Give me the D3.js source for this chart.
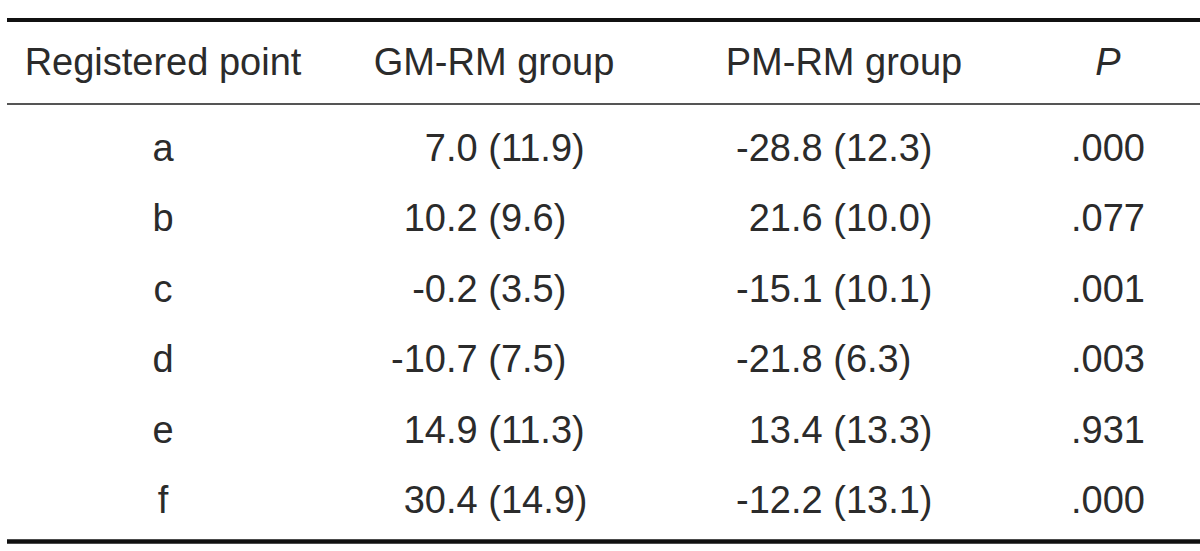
<!DOCTYPE html>
<html>
<head>
<meta charset="utf-8">
<script src="https://cdn.jsdelivr.net/npm/d3@7"></script>
<style>
  html, body { margin: 0; padding: 0; background: #fff; }
  text { font-family: "Liberation Sans", Arial, Helvetica, sans-serif; fill: #2b2b2b; }
</style>
</head>
<body>
<div id="chart-area"></div>
<script>
// table contents
var headers = ["Registered point", "GM-RM group", "PM-RM group", "P"];
var points = ["a", "b", "c", "d", "e", "f"];
var gmrm = ["7.0 (11.9)", "10.2 (9.6)", "-0.2 (3.5)", "-10.7 (7.5)", "14.9 (11.3)", "30.4 (14.9)"];
var pmrm = ["-28.8 (12.3)", "21.6 (10.0)", "-15.1 (10.1)", "-21.8 (6.3)", "13.4 (13.3)", "-12.2 (13.1)"];
var pvals = [".000", ".077", ".001", ".003", ".931", ".000"];

var width = 1200, height = 551;
var fontSize = 38;

var svg = d3.select("#chart-area").append("svg")
    .attr("width", width)
    .attr("height", height);

// row baselines
var y = d3.scalePoint()
    .domain(points)
    .range([161, 513]);

// header centres and decimal alignment positions
var headerX = [163, 494, 844, 1108];
var decimalX = [null, 446, 791, null];

// rules
svg.append("line").attr("x1", 7).attr("x2", width).attr("y1", 20).attr("y2", 20)
    .attr("stroke", "#111").attr("stroke-width", 4);
svg.append("line").attr("x1", 7).attr("x2", width).attr("y1", 104).attr("y2", 104)
    .attr("stroke", "#555").attr("stroke-width", 2);
svg.append("line").attr("x1", 7).attr("x2", width).attr("y1", 541.5).attr("y2", 541.5)
    .attr("stroke", "#111").attr("stroke-width", 4.5);

// header
svg.selectAll("text.header")
    .data(headers)
    .enter().append("text")
    .attr("class", "header")
    .attr("x", (d, i) => headerX[i])
    .attr("y", 75)
    .attr("text-anchor", "middle")
    .attr("font-size", fontSize + "px")
    .attr("font-style", (d, i) => i === 3 ? "italic" : "normal")
    .text(d => d);

// first column: registered points
svg.selectAll("text.point")
    .data(points)
    .enter().append("text")
    .attr("class", "point")
    .attr("x", headerX[0])
    .attr("y", d => y(d))
    .attr("text-anchor", "middle")
    .attr("font-size", fontSize + "px")
    .text(d => d);

// value columns aligned on the decimal point
function decimalColumn(values, col) {
    var g = svg.append("g").attr("class", "col" + col);
    values.forEach((v, i) => {
        var k = v.indexOf(".");
        var t = g.append("text")
            .attr("y", y(points[i]))
            .attr("font-size", fontSize + "px");
        t.append("tspan").text(v.slice(0, k));
        t.append("tspan").text(v.slice(k));
        // shift so that the decimal point sits on decimalX
        var intW = t.select("tspan").node().getComputedTextLength();
        t.attr("x", decimalX[col] - intW);
    });
}
decimalColumn(gmrm, 1);
decimalColumn(pmrm, 2);

// P column
svg.selectAll("text.pval")
    .data(pvals)
    .enter().append("text")
    .attr("class", "pval")
    .attr("x", headerX[3])
    .attr("y", (d, i) => y(points[i]))
    .attr("text-anchor", "middle")
    .attr("font-size", fontSize + "px")
    .text(d => d);
</script>
</body>
</html>
